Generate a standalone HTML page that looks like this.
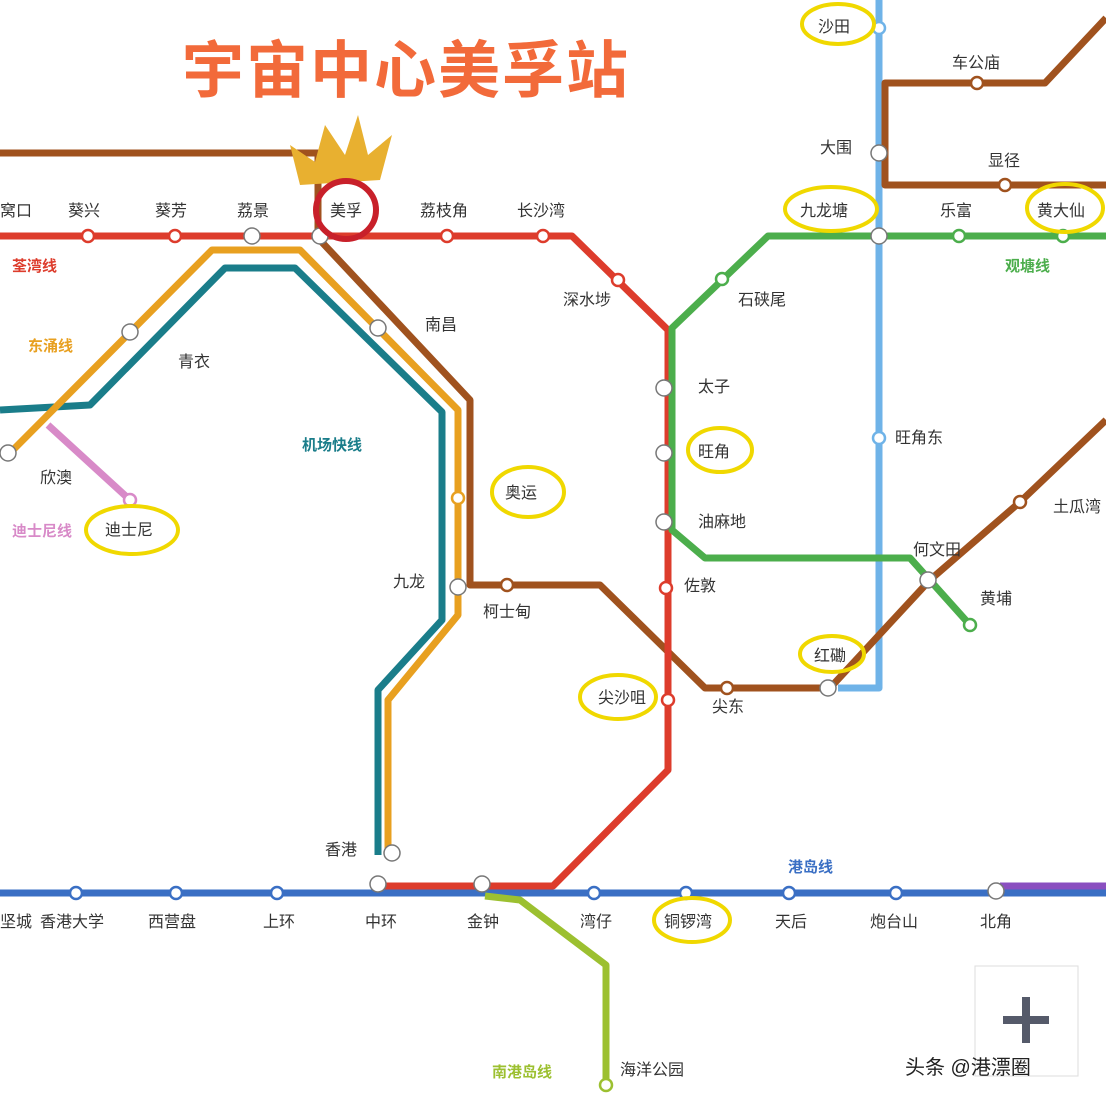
<!DOCTYPE html>
<html><head><meta charset="utf-8"><style>
html,body{margin:0;padding:0;background:#fff;}
svg{display:block;font-family:"Liberation Sans","Noto Sans CJK SC",sans-serif;}
.t{font-size:16px;fill:#333;}
</style></head><body>
<svg width="1106" height="1106" viewBox="0 0 1106 1106" xmlns="http://www.w3.org/2000/svg">
<rect width="1106" height="1106" fill="#fff"/>
<text x="182" y="92" font-size="62" font-weight="bold" fill="#f26a3a" style="font-family:'Noto Sans CJK SC',sans-serif" letter-spacing="2">宇宙中心美孚站</text>
<g fill="none" stroke-width="7" stroke-linejoin="round">
<polyline stroke="#6fb3e8" points="879,0 879,688 838,688"/>
<polyline stroke="#a0521e" points="1106,18 1045,83 885,83 885,185 1106,185"/>
<polyline stroke="#a0521e" points="0,153 318,153 318,238 470,400 470,585 600,585 705,688 830,688 930,580 1020,502 1106,420"/>
<polyline stroke="#1a7d8a" points="0,410 90,405 225,268 295,268 442,412 442,620 378,690 378,855"/>
<polyline stroke="#e8a020" points="10,453 212,250 300,250 458,410 458,615 388,700 388,855"/>
<polyline stroke="#d88ac8" points="48,425 130,500"/>
<polyline stroke="#dd3c2c" points="0,236 572,236 668,330 668,770 553,886 378,886"/>
<polyline stroke="#4cae4c" points="1106,236 768,236 672,328 672,530 705,558 910,558 970,625"/>
<polyline stroke="#3a6fc4" points="0,893 1106,893"/>
<polyline stroke="#8a4fc0" points="1000,886 1106,886"/>
<polyline stroke="#9cc030" points="485,896 520,900 606,965 606,1090"/>
</g>
<g fill="#fff" stroke-width="2.5">
<circle cx="88" cy="236" r="6" stroke="#dd3c2c"/><circle cx="175" cy="236" r="6" stroke="#dd3c2c"/>
<circle cx="447" cy="236" r="6" stroke="#dd3c2c"/><circle cx="543" cy="236" r="6" stroke="#dd3c2c"/>
<circle cx="618" cy="280" r="6" stroke="#dd3c2c"/><circle cx="666" cy="588" r="6" stroke="#dd3c2c"/>
<circle cx="668" cy="700" r="6" stroke="#dd3c2c"/>
<circle cx="722" cy="279" r="6" stroke="#4cae4c"/><circle cx="959" cy="236" r="6" stroke="#4cae4c"/>
<circle cx="1063" cy="236" r="6" stroke="#4cae4c"/><circle cx="970" cy="625" r="6" stroke="#4cae4c"/>
<circle cx="879" cy="438" r="6" stroke="#6fb3e8"/><circle cx="879" cy="28" r="6" stroke="#6fb3e8"/>
<circle cx="977" cy="83" r="6" stroke="#a0521e"/><circle cx="1005" cy="185" r="6" stroke="#a0521e"/>
<circle cx="1020" cy="502" r="6" stroke="#a0521e"/><circle cx="507" cy="585" r="6" stroke="#a0521e"/>
<circle cx="727" cy="688" r="6" stroke="#a0521e"/>
<circle cx="458" cy="498" r="6" stroke="#e8a020"/>
<circle cx="130" cy="500" r="6" stroke="#d88ac8"/>
<circle cx="76" cy="893" r="6" stroke="#3a6fc4"/><circle cx="176" cy="893" r="6" stroke="#3a6fc4"/>
<circle cx="277" cy="893" r="6" stroke="#3a6fc4"/><circle cx="594" cy="893" r="6" stroke="#3a6fc4"/>
<circle cx="686" cy="893" r="6" stroke="#3a6fc4"/><circle cx="789" cy="893" r="6" stroke="#3a6fc4"/>
<circle cx="896" cy="893" r="6" stroke="#3a6fc4"/><circle cx="606" cy="1085" r="6" stroke="#9cc030"/>
</g>
<g fill="#fff" stroke="#777" stroke-width="1.5">
<circle cx="252" cy="236" r="8"/><circle cx="320" cy="236" r="8"/><circle cx="130" cy="332" r="8"/>
<circle cx="378" cy="328" r="8"/><circle cx="8" cy="453" r="8"/><circle cx="458" cy="587" r="8"/>
<circle cx="664" cy="388" r="8"/><circle cx="664" cy="453" r="8"/><circle cx="664" cy="522" r="8"/>
<circle cx="879" cy="153" r="8"/><circle cx="879" cy="236" r="8"/><circle cx="928" cy="580" r="8"/>
<circle cx="828" cy="688" r="8"/><circle cx="392" cy="853" r="8"/><circle cx="378" cy="884" r="8"/>
<circle cx="482" cy="884" r="8"/><circle cx="996" cy="891" r="8"/>
</g>
<polygon points="300,185 290,145 315,162 325,125 345,155 358,115 368,155 392,135 380,180" fill="#e8b030"/>
<g fill="none" stroke="#f0d800" stroke-width="4">
<ellipse cx="838" cy="24" rx="36" ry="20"/><ellipse cx="831" cy="209" rx="46" ry="22"/>
<ellipse cx="1065" cy="208" rx="38" ry="24"/><ellipse cx="720" cy="450" rx="32" ry="22"/>
<ellipse cx="528" cy="492" rx="36" ry="25"/><ellipse cx="132" cy="530" rx="46" ry="24"/>
<ellipse cx="832" cy="654" rx="32" ry="18"/><ellipse cx="618" cy="697" rx="38" ry="22"/>
<ellipse cx="692" cy="920" rx="38" ry="22"/>
</g>
<ellipse cx="346" cy="210" rx="30" ry="29" fill="none" stroke="#c8202a" stroke-width="6"/>
<g class="t">
<text x="0" y="216">窝口</text><text x="68" y="216">葵兴</text><text x="155" y="216">葵芳</text>
<text x="237" y="216">荔景</text><text x="330" y="216">美孚</text><text x="420" y="216">荔枝角</text>
<text x="517" y="216">长沙湾</text><text x="818" y="32">沙田</text><text x="952" y="68">车公庙</text>
<text x="820" y="153">大围</text><text x="988" y="166">显径</text><text x="800" y="216">九龙塘</text>
<text x="940" y="216">乐富</text><text x="1037" y="216">黄大仙</text>
<text x="563" y="305">深水埗</text><text x="738" y="305">石硖尾</text><text x="425" y="330">南昌</text>
<text x="178" y="367">青衣</text><text x="698" y="392">太子</text><text x="895" y="443">旺角东</text>
<text x="698" y="457">旺角</text><text x="505" y="498">奥运</text><text x="40" y="483">欣澳</text>
<text x="105" y="535">迪士尼</text><text x="698" y="527">油麻地</text><text x="1053" y="512">土瓜湾</text>
<text x="913" y="555">何文田</text><text x="393" y="587">九龙</text><text x="684" y="591">佐敦</text>
<text x="980" y="604">黄埔</text><text x="483" y="617">柯士甸</text><text x="814" y="661">红磡</text>
<text x="598" y="703">尖沙咀</text><text x="712" y="712">尖东</text><text x="325" y="855">香港</text>
<text x="0" y="927">坚城</text><text x="40" y="927">香港大学</text><text x="148" y="927">西营盘</text>
<text x="263" y="927">上环</text><text x="365" y="927">中环</text><text x="467" y="927">金钟</text>
<text x="580" y="927">湾仔</text><text x="664" y="927">铜锣湾</text><text x="775" y="927">天后</text>
<text x="870" y="927">炮台山</text><text x="980" y="927">北角</text><text x="620" y="1075">海洋公园</text>
</g>
<g font-size="15" font-weight="bold">
<text x="12" y="271" fill="#dd3c2c">荃湾线</text><text x="28" y="351" fill="#e8a020">东涌线</text>
<text x="302" y="450" fill="#1a7d8a">机场快线</text><text x="12" y="536" fill="#d88ac8">迪士尼线</text>
<text x="1005" y="271" fill="#4cae4c">观塘线</text><text x="788" y="872" fill="#3a6fc4">港岛线</text>
<text x="492" y="1077" fill="#9cc030">南港岛线</text>
</g>
<rect x="975" y="966" width="103" height="110" fill="#fff" stroke="#ddd"/>
<rect x="1003" y="1016" width="46" height="8" fill="#555a6a"/><rect x="1022" y="997" width="8" height="46" fill="#555a6a"/>
<text x="905" y="1074" font-size="20" fill="#222">头条 @港漂圈</text>
</svg>
</body></html>
